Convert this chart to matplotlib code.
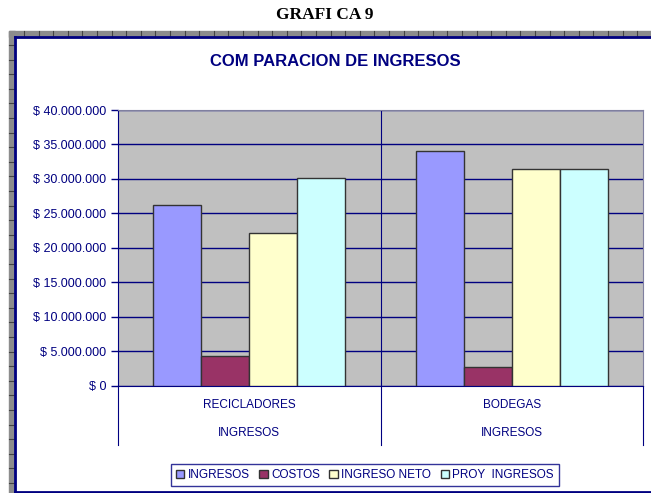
import matplotlib
matplotlib.use("Agg")
import matplotlib.pyplot as plt
import numpy as np
from matplotlib.patches import Rectangle
from matplotlib.lines import Line2D

# data
categories = ["RECICLADORES", "BODEGAS"]
group_label = "INGRESOS"
series_names = ["INGRESOS", "COSTOS", "INGRESO NETO", "PROY  INGRESOS"]
ingresos = [26200000, 34100000]
costos = [4300000, 2650000]
ingreso_neto = [22150000, 31400000]
proy_ingresos = [30100000, 31400000]
yticks = [0, 5000000, 10000000, 15000000, 20000000, 25000000, 30000000, 35000000, 40000000]

colors = ["#9999FF", "#993366", "#FFFFCC", "#CCFFFF"]
navy = "#000080"

plt.rcParams['font.family'] = ['Liberation Sans', 'DejaVu Sans']

W, H = 651, 493
fig = plt.figure(figsize=(W / 100, H / 100), dpi=100)

def fx(px):
    return px / W

def fy(py):
    return 1 - py / H

# spreadsheet background strips
fig.patches.append(Rectangle((fx(9), 0), fx(6), fy(31),
                             transform=fig.transFigure, color="#8c8c8c", zorder=0))
fig.patches.append(Rectangle((fx(9), fy(37)), 1, fy(31) - fy(37),
                             transform=fig.transFigure, color="#8c8c8c", zorder=0))
for x in np.arange(24, W, 14.6):
    fig.lines.append(Line2D([fx(x), fx(x)], [fy(31), fy(37)], transform=fig.transFigure,
                            color="#444444", lw=0.8))
for y in np.arange(45, H, 14.6):
    fig.lines.append(Line2D([fx(9), fx(15)], [fy(y), fy(y)], transform=fig.transFigure,
                            color="#444444", lw=0.8))

# chart frame
fig.lines.append(Line2D([fx(15), fx(15)], [fy(37), fy(492)], transform=fig.transFigure, color=navy, lw=2))
fig.lines.append(Line2D([fx(15), 1], [fy(37), fy(37)], transform=fig.transFigure, color=navy, lw=2))
fig.lines.append(Line2D([fx(15), 1], [fy(492), fy(492)], transform=fig.transFigure, color=navy, lw=2))

fig.text(fx(325), fy(15), "GRAFI CA 9", ha="center", va="center", fontsize=12.5,
         fontweight="bold", family=["Liberation Serif", "DejaVu Serif"])
fig.text(fx(335), fy(61), "COM PARACION DE INGRESOS", ha="center", va="center", fontsize=12,
         fontweight="bold", color=navy)

left, right, top, bottom = 118, 643, 110, 385.6
ax = fig.add_axes([fx(left), fy(bottom), fx(right - left), fy(top) - fy(bottom)])
ax.set_facecolor("#C0C0C0")

x = np.arange(len(categories))
bw = 0.183
all_series = [ingresos, costos, ingreso_neto, proy_ingresos]
for i, vals in enumerate(all_series):
    ax.bar(x + (i - 1.5) * bw, vals, bw, color=colors[i], edgecolor="#333333", lw=1,
           label=series_names[i], zorder=3)

ax.set_xlim(-0.5, 1.5)
ax.set_ylim(0, 40000000)
ax.set_yticks(yticks)
ax.set_yticklabels(["$ 0"] + ["$ " + f"{v:,}".replace(",", ".") for v in yticks[1:]],
                   fontsize=9, color=navy)
ax.yaxis.grid(True, color=navy, lw=1, zorder=1)
ax.axvline(0.5, color=navy, lw=0.8, zorder=1)
ax.set_xticks([])
ax.tick_params(axis="y", length=5, color=navy, width=1)
ax.spines["left"].set_color(navy)
ax.spines["bottom"].set_color(navy)
ax.spines["right"].set_color("#7f7f9f")
ax.spines["top"].set_color("#7f7f9f")

# category axis with two levels below the plot
for xp in [left, 381, right]:
    fig.lines.append(Line2D([fx(xp), fx(xp)], [fy(bottom), fy(445)], transform=fig.transFigure,
                            color=navy, lw=0.8))
for i, c in enumerate(categories):
    cx = ax.transData.transform((x[i], 0))[0] / fig.dpi / fig.get_figwidth()
    fig.text(cx, fy(405), c, ha="center", va="center", fontsize=8.5, color=navy)
    fig.text(cx, fy(433), group_label, ha="center", va="center", fontsize=8.5, color=navy)

leg = fig.legend(loc="center", bbox_to_anchor=(fx(365), fy(475)), ncol=4, fontsize=8.5,
                 frameon=True, fancybox=False, edgecolor=navy, handlelength=0.7, handleheight=0.7,
                 handletextpad=0.3, columnspacing=0.8, borderpad=0.4)
for t in leg.get_texts():
    t.set_color(navy)
leg.get_frame().set_linewidth(1)

fig.savefig("out.png", dpi=100)
